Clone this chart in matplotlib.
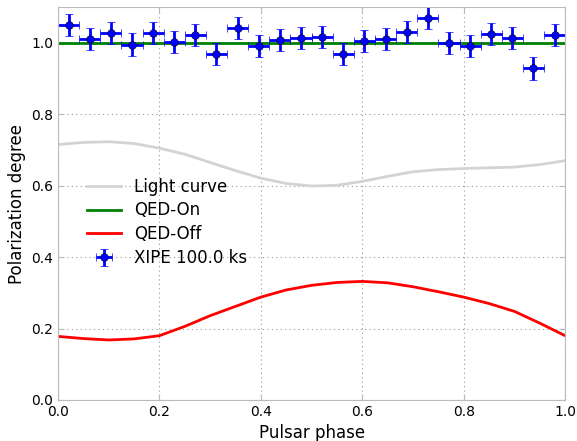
import numpy as np
import matplotlib
matplotlib.use("Agg")
import matplotlib.pyplot as plt

# Model curves sampled on pulsar phase
phase = [0.0, 0.05, 0.1, 0.15, 0.2, 0.25, 0.3, 0.35, 0.4, 0.45, 0.5,
         0.55, 0.6, 0.65, 0.7, 0.75, 0.8, 0.85, 0.9, 0.95, 1.0]
light_curve = [0.715, 0.721, 0.723, 0.718, 0.705, 0.688, 0.665, 0.642, 0.621, 0.606, 0.599,
               0.601, 0.612, 0.626, 0.639, 0.645, 0.648, 0.650, 0.652, 0.659, 0.670]
qed_on = [1.0] * len(phase)
qed_off = [0.178, 0.172, 0.168, 0.171, 0.180, 0.206, 0.236, 0.262, 0.288, 0.308, 0.321,
           0.329, 0.332, 0.328, 0.317, 0.303, 0.288, 0.270, 0.248, 0.215, 0.180]

# Simulated XIPE 100 ks measurements (24 phase bins)
n_bins = 24
bin_centers = (np.arange(n_bins) + 0.5) / n_bins
bin_halfwidth = 0.5 / n_bins
xipe_pd = [1.050, 1.010, 1.027, 0.995, 1.027, 1.003, 1.022, 0.969, 1.041, 0.990, 1.008, 1.013,
           1.016, 0.969, 1.006, 1.010, 1.031, 1.069, 0.999, 0.990, 1.024, 1.013, 0.928, 1.022]
xipe_err = [0.031] * n_bins

fig = plt.figure(figsize=(5.77, 4.41), dpi=100)
ax = fig.add_axes([0.1005, 0.093, 0.879, 0.891])

l1, = ax.plot(phase, light_curve, color="lightgray", linewidth=2, label="Light curve")
l2, = ax.plot(phase, qed_on, color="green", linewidth=2, label="QED-On")
l3, = ax.plot(phase, qed_off, color="red", linewidth=2, label="QED-Off")
eb = ax.errorbar(bin_centers, xipe_pd, xerr=bin_halfwidth, yerr=xipe_err, fmt="o",
                 color="blue", markersize=5.5, markeredgecolor="#000033", markeredgewidth=0.5,
                 elinewidth=2, capsize=3, capthick=1, label="XIPE 100.0 ks")

ax.set_xlim(0, 1)
ax.set_ylim(0, 1.1)
ax.set_xticks([0.0, 0.2, 0.4, 0.6, 0.8, 1.0])
ax.set_yticks([0.0, 0.2, 0.4, 0.6, 0.8, 1.0])
ax.set_xlabel("Pulsar phase", fontsize=12)
ax.set_ylabel("Polarization degree", fontsize=12)
ax.tick_params(labelsize=10, direction="in", length=4, color="#bbbbbb", top=True, right=True)
for sp in ax.spines.values():
    sp.set_color("#bbbbbb")
ax.grid(True, linestyle=(0, (1, 3)), color="#999999", linewidth=0.8)

ax.legend([l1, l2, l3, eb], ["Light curve", "QED-On", "QED-Off", "XIPE 100.0 ks"],
          loc="center left", bbox_to_anchor=(0.028, 0.452), frameon=False, fontsize=12,
          labelspacing=0.35)

fig.savefig("out.png", dpi=100)
